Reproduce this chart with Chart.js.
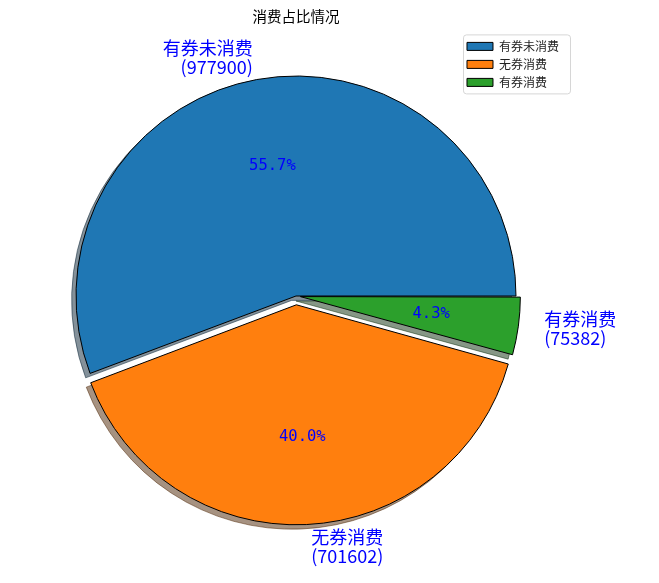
<!DOCTYPE html>
<html>
<head>
<meta charset="utf-8">
<script src="https://cdn.jsdelivr.net/npm/chart.js@4.4.1/dist/chart.umd.min.js"></script>
<style>
  html, body { margin: 0; background: #fff; }
</style>
</head>
<body>
<canvas id="chart" width="659" height="583"></canvas>
<script>
// data
const categories = ["有券未消费", "无券消费", "有券消费"];
const amounts    = [977900, 701602, 75382];
const colors     = ["#1f77b4", "#ff7f0e", "#2ca02c"];
const explode    = [0, 0.04, 0.02];   // fraction of the radius
const chartTitle = "消费占比情况";

const R = 220;                        // pie radius in px
const CJK = "'Noto Sans CJK SC', 'Noto Sans', sans-serif";

// matplotlib goes counter-clockwise from 3 o'clock, Chart.js clockwise,
// so feed the slices in reverse and flip the legend back
const order = [2, 1, 0];
const total = amounts.reduce((a, b) => a + b, 0);

// shadow = 0.3 * face colour at alpha .5 (matplotlib Shadow)
function shadowOf(hex) {
  const n = parseInt(hex.slice(1), 16);
  const r = Math.round(((n >> 16) & 255) * .3), g = Math.round(((n >> 8) & 255) * .3), b = Math.round((n & 255) * .3);
  return `rgb(${r},${g},${b})`;
}

const pieShadow = {
  id: "pieShadow",
  beforeDatasetsDraw(chart) {
    const ctx = chart.ctx;
    chart.getDatasetMeta(0).data.forEach((arc, k) => {
      // Chart.js grows an offset slice's radius a little; undo that so
      // exploded slices keep the same radius as in matplotlib
      const off = (arc.options.offset || 0) / 4;
      const fix = 1 - Math.sin(Math.min(Math.PI, arc.circumference || 0));
      arc.outerRadius = R - off * fix;

      const keep = arc.options;
      const c = shadowOf(colors[order[k]]);
      arc.options = Object.assign({}, keep, { backgroundColor: c, borderColor: c });
      ctx.save();
      ctx.globalAlpha = 0.5;
      ctx.translate(-0.02 * R, 0.02 * R);
      arc.draw(ctx);
      ctx.restore();
      arc.options = keep;
    });
  }
};

const pieText = {
  id: "pieText",
  afterDatasetsDraw(chart) {
    const ctx = chart.ctx;
    ctx.save();
    ctx.fillStyle = "blue";
    ctx.textBaseline = "middle";
    chart.getDatasetMeta(0).data.forEach((arc, k) => {
      const i = order[k];
      const { x, y, startAngle, endAngle } = arc.getProps(["x", "y", "startAngle", "endAngle"], true);
      const mid = (startAngle + endAngle) / 2;
      const off = (arc.options.offset || 0) / 4;
      const cx = x + Math.cos(mid) * off, cy = y + Math.sin(mid) * off;

      // percentage inside
      ctx.font = "15.5px 'DejaVu Sans Mono', monospace";
      ctx.textAlign = "center";
      const pct = (amounts[i] / total * 100).toFixed(1) + "%";
      ctx.fillText(pct, cx + Math.cos(mid) * R * 0.6, cy + Math.sin(mid) * R * 0.6);

      // name + amount outside
      ctx.font = "18px " + CJK;
      const lx = cx + Math.cos(mid) * R * 1.1, ly = cy + Math.sin(mid) * R * 1.1;
      ctx.textAlign = Math.cos(mid) >= 0 ? "left" : "right";
      const nudge = Math.cos(mid) >= 0 ? 4 : 0;
      ctx.fillText(categories[i], lx + nudge, ly - 9.5);
      ctx.fillText("(" + amounts[i] + ")", lx + nudge, ly + 9.5);
    });
    ctx.restore();
  }
};

const legendFrame = {
  id: "legendFrame",
  afterDraw(chart) {
    const boxes = chart.legend.legendHitBoxes;
    if (!boxes || !boxes.length) return;
    const left = Math.min(...boxes.map(b => b.left)) - 4;
    const top = Math.min(...boxes.map(b => b.top)) - 6;
    const bottom = Math.max(...boxes.map(b => b.top + b.height)) + 5;
    const right = chart.legend.right + 1;
    const ctx = chart.ctx;
    ctx.save();
    ctx.strokeStyle = "#d6d6d6";
    ctx.lineWidth = 1;
    ctx.beginPath();
    ctx.roundRect(left + .5, top + .5, right - left, bottom - top, 3);
    ctx.stroke();
    ctx.restore();
  }
};

new Chart(document.getElementById("chart").getContext("2d"), {
  type: "pie",
  data: {
    labels: order.map(i => categories[i]),
    datasets: [{
      data: order.map(i => amounts[i]),
      backgroundColor: order.map(i => colors[i]),
      borderColor: "#000",
      borderWidth: 1,
      offset: order.map(i => explode[i] * R * 4),
      radius: R,
      clip: false
    }]
  },
  options: {
    responsive: false,
    animation: false,
    rotation: 90,
    radius: R,
    layout: { padding: { left: 131, right: 90, top: 0, bottom: 26.4 } },
    plugins: {
      title: {
        display: true,
        text: chartTitle,
        fullSize: false,
        color: "#000",
        font: { family: CJK, size: 14.5, weight: "normal" },
        padding: { top: 8, bottom: 10 }
      },
      legend: {
        position: "right",
        align: "start",
        reverse: true,
        title: { display: true, text: " ", font: { size: 12 }, padding: { top: 20, bottom: 0 } },
        labels: {
          boxWidth: 26,
          boxHeight: 8,
          padding: 6,
          color: "#222",
          font: { family: CJK, size: 12 }
        }
      },
      tooltip: { enabled: false }
    }
  },
  plugins: [pieShadow, pieText, legendFrame]
});
</script>
</body>
</html>
